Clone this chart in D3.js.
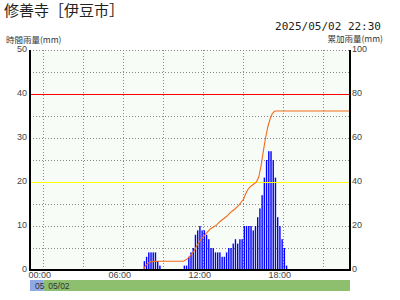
<!DOCTYPE html>
<html>
<head>
<meta charset="utf-8">
<script src="https://cdn.jsdelivr.net/npm/d3@7"></script>
<style>
  body { margin: 0; background: #fff; }
  svg text { font-family: "Liberation Sans", Arial, sans-serif; fill: #333; }
</style>
</head>
<body>
<div id="chart"></div>
<script>
// chart texts
var title = "修善寺［伊豆市］";
var stamp = "2025/05/02 22:30";
var leftTitle = "時間雨量(mm)";
var rightTitle = "累加雨量(mm)";

// hourly rainfall (mm), one bar every 10 minutes on 05/02
var rainTimes = ["07:40","07:50","08:00","08:10","08:20","08:30","08:40","08:50",
  "10:40","10:50","11:00","11:10","11:20","11:30","11:40","11:50",
  "12:00","12:10","12:20","12:30","12:40","12:50",
  "13:00","13:10","13:20","13:30","13:40","13:50",
  "14:00","14:10","14:20","14:30","14:40","14:50",
  "15:00","15:10","15:20","15:30","15:40","15:50",
  "16:00","16:10","16:20","16:30","16:40","16:50",
  "17:00","17:10","17:20","17:30","17:40","17:50",
  "18:00","18:10","18:20"];
var rainValues = [2,3,4,4,4,4,2,1,
  1,1,3,4,5,8,9,10,
  9,9,8,7,5,5,
  4,4,4,3,3,4,
  5,5,6,7,6,7,
  7,10,10,10,10,9,
  10,12,14,17,21,25,
  27,27,25,21,12,10,
  7,5,1];

// accumulated rainfall (mm)
var accTimes = ["00:00","07:30","07:40","07:50","08:00","08:20","08:40","10:30",
  "10:40","10:50","11:00","11:10","11:20","11:30","11:40","11:50",
  "12:00","12:10","12:20","12:30","12:40","12:50",
  "13:00","13:10","13:20","13:30","13:40","13:50",
  "14:00","14:10","14:20","14:30","14:40","14:50",
  "15:00","15:10","15:20","15:30","15:40","15:50",
  "16:00","16:10","16:20","16:30","16:40","16:50",
  "17:00","17:10","17:20","17:30","23:00"];
var accValues = [0,0,2,3,3.7,3.9,4,4,
  4.5,5.3,6.3,7.5,9,10.9,12.5,14,
  15,16.2,17.5,18.5,19.2,19.8,
  20.5,21.5,22.5,23.2,24,24.8,
  26,26.8,27.5,28.5,29.5,30.8,
  32,34.5,36.5,37.8,38.5,39.3,
  40.2,42.5,47.5,54,60,65,
  68.5,71,72.2,72.3,72.3];

// ticks and reference levels
var hourTicks = [0,10,20,30,40,50];
var accTicks = [0,20,40,60,80,100];
var hourGrid = [5,10,15,20,25,30,35,40,45,50];
var timeTicks = ["00:00","06:00","12:00","18:00"];
var timeGrid = ["00:00","03:00","06:00","09:00","12:00","15:00","18:00","21:00"];
var levelValues = [40,20];
var levelColors = ["#ff0000","#ffff00"];
var dayNames = ["05","05/02"];
var dayStarts = ["2025-05-01 23:00","2025-05-02 00:00"];
var dayEnds = ["2025-05-02 00:00","2025-05-02 23:00"];
var dayColors = ["#8ea9e3","#8dbf6e"];

var parse = d3.timeParse("%Y-%m-%d %H:%M");
function t(hm) { return parse("2025-05-02 " + hm); }

var margin = {top: 50, right: 50, bottom: 30, left: 30},
    width = 400 - margin.left - margin.right,
    height = 300 - margin.top - margin.bottom;

var svg = d3.select("#chart")
  .append("svg")
    .attr("width", 400)
    .attr("height", 300);

// titles
svg.append("text")
  .attr("x", 4).attr("y", 16)
  .style("font-family", "'Noto Sans CJK JP', sans-serif")
  .style("font-size", "15px").style("fill", "#222")
  .text(title);
svg.append("text")
  .attr("x", 381).attr("y", 30)
  .attr("text-anchor", "end")
  .style("font-family", "'DejaVu Sans Mono', monospace")
  .style("font-size", "11px").style("fill", "#222")
  .text(stamp);
svg.append("text")
  .attr("x", 6).attr("y", 43)
  .style("font-family", "'Noto Sans CJK JP', sans-serif")
  .style("font-size", "8.5px")
  .text(leftTitle);
svg.append("text")
  .attr("x", 383).attr("y", 42)
  .attr("text-anchor", "end")
  .style("font-family", "'Noto Sans CJK JP', sans-serif")
  .style("font-size", "8.5px")
  .text(rightTitle);

var g = svg.append("g")
  .attr("transform", "translate(" + margin.left + "," + margin.top + ")");

// scales
var x = d3.scaleTime()
  .domain([parse("2025-05-01 23:00"), parse("2025-05-02 23:00")])
  .range([0, width]);
var y = d3.scaleLinear().domain([0, 50]).range([height, 0]);
var y2 = d3.scaleLinear().domain([0, 100]).range([height, 0]);

// plot background
g.append("rect")
  .attr("width", width).attr("height", height)
  .style("fill", "#f8fcf7");

// dotted grid
g.append("g").selectAll("line")
  .data(hourGrid)
  .enter().append("line")
    .attr("x1", 0).attr("x2", width)
    .attr("y1", function(d) { return Math.round(y(d)) + 0.5; })
    .attr("y2", function(d) { return Math.round(y(d)) + 0.5; })
    .style("stroke", "#888").style("stroke-dasharray", "1,2");
g.append("g").selectAll("line")
  .data(timeGrid)
  .enter().append("line")
    .attr("x1", function(d) { return Math.round(x(t(d))) + 0.5; })
    .attr("x2", function(d) { return Math.round(x(t(d))) + 0.5; })
    .attr("y1", 0).attr("y2", height)
    .style("stroke", "#888").style("stroke-dasharray", "1,2");

// bars
g.append("g").selectAll("rect")
  .data(rainTimes)
  .enter().append("rect")
    .attr("x", function(d) { return x(t(d)) - 1.9; })
    .attr("width", 1.4)
    .attr("y", function(d, i) { return y(rainValues[i]); })
    .attr("height", function(d, i) { return height - y(rainValues[i]); })
    .style("fill", "#0000ff");

// reference levels
g.append("g").selectAll("line")
  .data(levelValues)
  .enter().append("line")
    .attr("x1", 0).attr("x2", width)
    .attr("y1", function(d) { return Math.round(y(d)) + 0.5; })
    .attr("y2", function(d) { return Math.round(y(d)) + 0.5; })
    .style("stroke", function(d, i) { return levelColors[i]; })
    .style("stroke-width", 1.2);

// accumulated line
var line = d3.line()
  .x(function(d) { return x(t(d)); })
  .y(function(d, i) { return y2(accValues[i]); });
g.append("path")
  .datum(accTimes)
  .attr("d", line)
  .style("fill", "none")
  .style("stroke", "#f26a1b")
  .style("stroke-width", 1.1);

// frame lines
g.append("line").attr("x1", 0).attr("x2", 0).attr("y1", 0).attr("y2", height + 1)
  .style("stroke", "#000").style("stroke-width", 2);
g.append("line").attr("x1", width).attr("x2", width).attr("y1", 0).attr("y2", height + 1)
  .style("stroke", "#000").style("stroke-width", 2);
g.append("line").attr("x1", -1).attr("x2", width + 1).attr("y1", height).attr("y2", height)
  .style("stroke", "#000").style("stroke-width", 2);

// axes (labels only)
var left = g.append("g")
  .call(d3.axisLeft(y).tickValues(hourTicks).tickSize(0).tickPadding(3));
var right = g.append("g")
  .attr("transform", "translate(" + width + ",0)")
  .call(d3.axisRight(y2).tickValues(accTicks).tickSize(0).tickPadding(2));
var bottom = g.append("g")
  .attr("transform", "translate(0," + height + ")")
  .call(d3.axisBottom(x).tickValues(timeTicks.map(t)).tickFormat(d3.timeFormat("%H:%M")).tickSize(0).tickPadding(3));
[left, right, bottom].forEach(function(a) {
  a.select(".domain").remove();
  a.selectAll("text").style("font-size", "9px").style("fill", "#444")
    .style("font-family", "'Liberation Sans', Arial, sans-serif");
});
left.selectAll("text").attr("dy", "0.2em");
right.selectAll("text").attr("dy", "0.2em");
bottom.selectAll("text").attr("dx", -4).attr("dy", "0.6em");

// day band
var band = g.append("g").attr("transform", "translate(0," + (height + 10) + ")");
band.selectAll("rect")
  .data(dayNames)
  .enter().append("rect")
    .attr("x", function(d, i) { return x(parse(dayStarts[i])); })
    .attr("width", function(d, i) { return x(parse(dayEnds[i])) - x(parse(dayStarts[i])); })
    .attr("height", 11)
    .style("fill", function(d, i) { return dayColors[i]; });
band.selectAll("text")
  .data(dayNames)
  .enter().append("text")
    .attr("x", function(d, i) { return x(parse(dayStarts[i])) + 5; })
    .attr("y", 9)
    .style("font-size", "8.5px")
    .text(function(d) { return d; });
</script>
</body>
</html>
